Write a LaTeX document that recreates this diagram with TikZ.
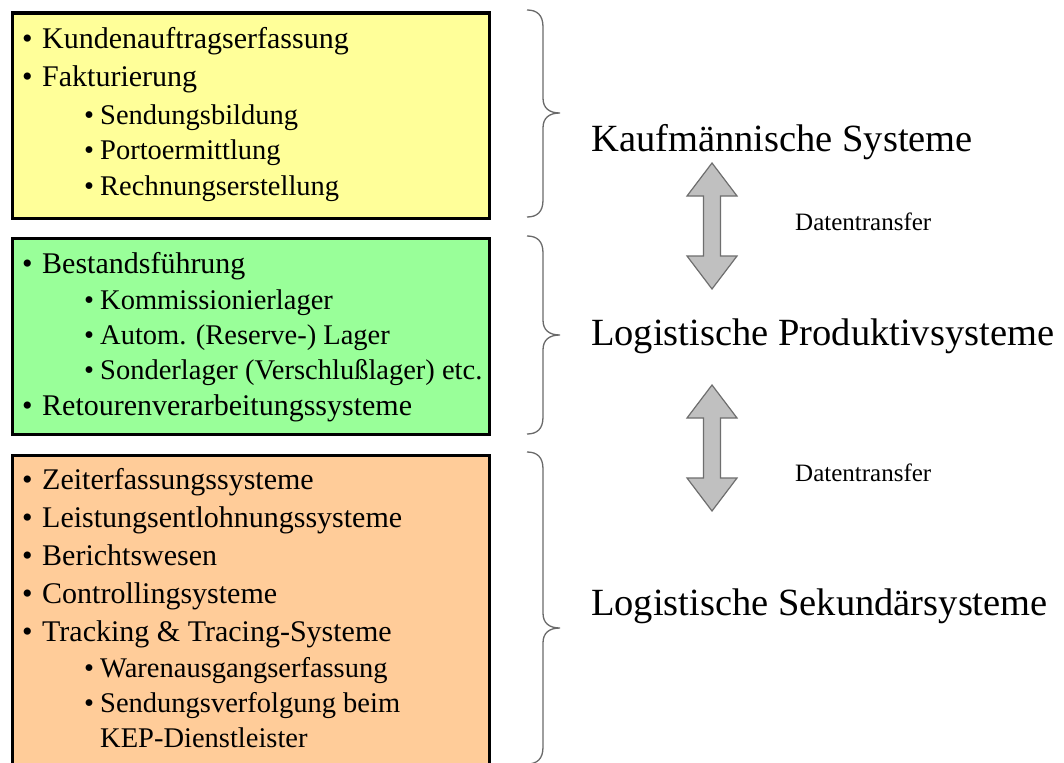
\documentclass[tikz,border=0pt]{standalone}
\usepackage{fontspec}
\setmainfont{Liberation Serif}
\definecolor{panelyellow}{HTML}{FFFF99}
\definecolor{panelgreen}{HTML}{99FF99}
\definecolor{panelorange}{HTML}{FFCC99}
\definecolor{arrowfill}{HTML}{C0C0C0}
\definecolor{arrowedge}{HTML}{6E6E6E}
\definecolor{bracegray}{HTML}{6A6A6A}
\newcommand\bulA{\makebox[20pt][l]{•}}
\newcommand\bulB{\makebox[16pt][l]{•}}
\begin{document}
\begin{tikzpicture}[x=1pt,y=-1pt,
  panel/.style={draw=black, line width=3.2pt, anchor=north west, inner sep=0pt},
  lvlone/.style={anchor=base west, inner sep=0pt, font=\fontsize{30}{36}\selectfont},
  lvltwo/.style={anchor=base west, inner sep=0pt, font=\fontsize{28.5}{34}\selectfont},
  grouplabel/.style={anchor=base west, inner sep=0pt, font=\fontsize{38.5}{46}\selectfont},
  transferlabel/.style={anchor=base west, inner sep=0pt, font=\fontsize{25}{30}\selectfont},
  bracket/.style={draw=bracegray, line width=1.3pt},
  blockarrow/.style={draw=arrowedge, fill=arrowfill, line width=1.2pt, line join=miter},
  transferarrow/.pic={
    \draw[blockarrow] (0,-63) -- (25,-30) -- (8.5,-30) -- (8.5,30) -- (25,30)
      -- (0,63) -- (-25,30) -- (-8.5,30) -- (-8.5,-30) -- (-25,-30) -- cycle;
  }
]
\useasboundingbox (0,0) rectangle (1064,762);
\clip (0,0) rectangle (1064,762);
\fill[white] (0,0) rectangle (1064,762);

% three system panels
\node[panel, fill=panelyellow, minimum width=477pt, minimum height=205pt] (sales) at (10.5,11.5) {};
\node[panel, fill=panelgreen, minimum width=477pt, minimum height=196pt] (prod) at (10.5,237) {};
\node[panel, fill=panelorange, minimum width=477pt, minimum height=360pt] (second) at (10.5,453.5) {};

% commercial systems
\node[lvlone] (s1) at (22,49) {\bulA Kundenauftragserfassung};
\node[lvlone] (s2) at (22,87) {\bulA Fakturierung};
\node[lvltwo] (s3) at (84,125) {\bulB Sendungsbildung};
\node[lvltwo] (s4) at (84,160) {\bulB Portoermittlung};
\node[lvltwo] (s5) at (84,195) {\bulB Rechnungserstellung};

% logistic production systems
\node[lvlone] (p1) at (22,273) {\bulA Bestandsführung};
\node[lvltwo] (p2) at (84,309) {\bulB Kommissionierlager};
\node[lvltwo] (p3) at (84,344) {\bulB Autom. (Reserve-) Lager};
\node[lvltwo] (p4) at (84,379) {\bulB Sonderlager (Verschlußlager) etc.};
\node[lvlone] (p5) at (22,415) {\bulA Retourenverarbeitungssysteme};

% logistic secondary systems
\node[lvlone] (c1) at (22,489) {\bulA Zeiterfassungssysteme};
\node[lvlone] (c2) at (22,527) {\bulA Leistungsentlohnungssysteme};
\node[lvlone] (c3) at (22,565) {\bulA Berichtswesen};
\node[lvlone] (c4) at (22,603) {\bulA Controllingsysteme};
\node[lvlone] (c5) at (22,641) {\bulA Tracking \& Tracing-Systeme};
\node[lvltwo] (c6) at (84,677) {\bulB Warenausgangserfassung};
\node[lvltwo] (c7) at (84,712) {\bulB Sendungsverfolgung beim};
\node[lvltwo] (c8) at (100,747) {KEP-Dienstleister};

% curly braces grouping each panel (top / tip / bottom)
\foreach \t/\m/\b in {10/113/217, 236/335/434, 452/628/764} {
  \draw[bracket] (527,\t) .. controls (537,\t) and (543,\t+5) .. (543,\t+17)
    -- (543,\m-15) .. controls (543,\m-5) and (549,\m) .. (560,\m)
    .. controls (549,\m) and (543,\m+5) .. (543,\m+15)
    -- (543,\b-17) .. controls (543,\b-5) and (537,\b) .. (527,\b);
}

% group labels
\node[grouplabel] (gsales) at (591,152) {Kaufmännische Systeme};
\node[grouplabel] (gprod) at (591,345) {Logistische Produktivsysteme};
\node[grouplabel] (gsecond) at (591,615) {Logistische Sekundärsysteme};

% data transfer arrows
\pic at (712,226) {transferarrow};
\pic at (712,448) {transferarrow};
\node[transferlabel] (t1) at (795,230) {Datentransfer};
\node[transferlabel] (t2) at (795,481) {Datentransfer};
\end{tikzpicture}
\end{document}
